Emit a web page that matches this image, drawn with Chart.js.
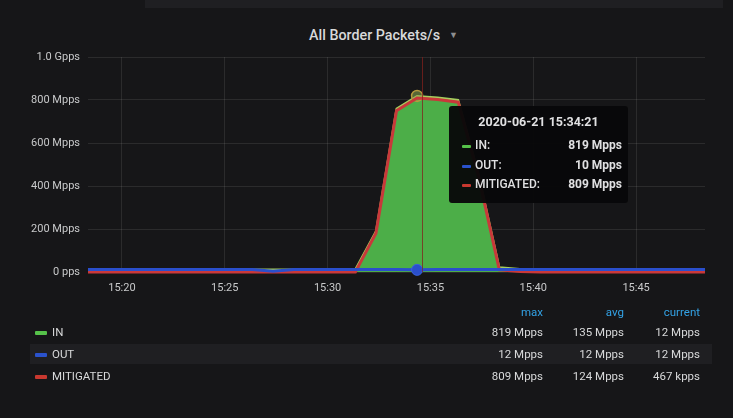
<!DOCTYPE html>
<html>
<head>
<meta charset="utf-8">
<script src="https://cdn.jsdelivr.net/npm/chart.js@4/dist/chart.umd.min.js"></script>
<style>
  html, body { margin:0; padding:0; }
  body { width:733px; height:418px; background:#161618; position:relative; overflow:hidden; font-family: Roboto, "Noto Sans", sans-serif; color:#d8d9da; }
  #topbar { position:absolute; left:145px; top:0; width:578px; height:8px; background:#1f1f22; }
  #title { position:absolute; left:17px; width:733px; top:27px; text-align:center; font-size:14.3px; font-weight:500; color:#d8d9da; }
  #title .caret { color:#8e8e90; font-size:9px; margin-left:9px; position:relative; top:-2px; }
  #wrap { position:absolute; left:0; top:40px; width:733px; height:265px; }
  #tip { position:absolute; left:449px; top:106px; width:179px; height:97px; background:rgba(8,8,9,0.96); border-radius:3px; }
  #tip .t { position:absolute; left:0; width:179px; top:8px; text-align:center; font-size:12.5px; font-weight:700; color:#e0e0e2; }
  #tip .r { position:absolute; left:13px; width:160px; height:16px; font-size:12px; font-weight:700; color:#e0e0e2; }
  #tip .r .m { position:absolute; left:0; top:7px; width:9px; height:3px; border-radius:1px; }
  #tip .r .l { position:absolute; left:13px; top:0; font-weight:500; }
  #tip .r .v { position:absolute; right:0; top:0; }
  #legend { position:absolute; left:0; top:302px; width:733px; }
  .hdr, .row { position:absolute; left:30px; width:682px; height:20px; font-size:11.5px; }
  .hdr { color:#33a2e5; }
  .row .m { position:absolute; left:5px; top:9px; width:12px; height:4px; border-radius:1px; }
  .row .n { position:absolute; left:22px; top:3px; color:#d8d9da; }
  .c { position:absolute; top:3px; text-align:right; width:80px; }
  .c1 { left:433px; } .c2 { left:514px; } .c3 { left:590px; }
  .hl { background:#1f1f22; }
</style>
</head>
<body>
<div id="topbar"></div>
<div id="title">All Border Packets/s<span class="caret">&#9660;</span></div>
<div id="wrap"><canvas id="c"></canvas></div>
<div id="tip"></div>
<div id="legend"></div>
<script>
// ---- data ----
const times = ['15:18:21','15:19:21','15:20:21','15:21:21','15:22:21','15:23:21','15:24:21','15:25:21','15:26:21','15:27:21','15:28:21','15:29:21','15:30:21','15:31:21','15:32:21','15:33:21','15:34:21','15:35:21','15:36:21','15:37:21','15:38:21','15:39:21','15:40:21','15:41:21','15:42:21','15:43:21','15:44:21','15:45:21','15:46:21','15:47:21','15:48:21'];
const seriesNames = ['IN','OUT','MITIGATED'];
// values in Mpps
const inValues  = [12,12,12,12,12,12,12,12,12,12,12,12,12,13,190,760,819,812,800,450,22,14,12,12,12,12,12,12,12,12,12];
const outValues = [12,12,12,12,12,12,12,12,12,3,12,12,12,12,12,12,10,12,12,12,12,12,12,12,12,12,12,12,12,12,12];
const mitValues = [0.5,0.5,0.5,0.5,0.5,0.5,0.5,0.5,0.5,0.5,0.5,0.5,0.5,0.5,180,750,809,802,790,440,10,2,0.5,0.5,0.5,0.5,0.5,0.5,0.5,0.5,0.467];
const yTicks = [0,200,400,600,800,1000];
const yTickLabels = ['0 pps','200 Mpps','400 Mpps','600 Mpps','800 Mpps','1.0 Gpps'];
const xTicks = ['15:20','15:25','15:30','15:35','15:40','15:45'];
const hoverTime = '15:34:21';
const hoverDate = '2020-06-21';
const cursorTime = '15:34:34';
const tooltipValues = ['819 Mpps','10 Mpps','809 Mpps'];
const legendHeaders = ['max','avg','current'];
const legendMax = ['819 Mpps','12 Mpps','809 Mpps'];
const legendAvg = ['135 Mpps','12 Mpps','124 Mpps'];
const legendCurrent = ['12 Mpps','12 Mpps','467 kpps'];
// ---------------

const colors = { IN:'#4cae48', INline:'#a6cf5e', OUT:'#2a4fcc', MIT:'#c9383a' };
const markColors = ['#56c24a','#2a52cc','#c8382f'];

function toMin(t){ const p=t.split(':').map(Number); return (p[0]-15)*60+p[1]+(p[2]||0)/60; }
const xs = times.map(toMin);
const hoverIdx = times.indexOf(hoverTime);
const pts = arr => arr.map((v,i)=>({x:xs[i], y:v}));

const cursorPlugin = {
  id:'cursor',
  afterDatasetsDraw(chart){
    const {ctx, chartArea, scales} = chart;
    const x = scales.x.getPixelForValue(toMin(cursorTime));
    ctx.save();
    ctx.strokeStyle = 'rgba(130,32,28,0.75)';
    ctx.lineWidth = 1;
    ctx.beginPath();
    ctx.moveTo(Math.round(x)+0.5, chartArea.top);
    ctx.lineTo(Math.round(x)+0.5, chartArea.bottom);
    ctx.stroke();
    ctx.restore();
  }
};

const radiusAt = ctx => ctx.dataIndex === hoverIdx ? 5.5 : 0;

new Chart(document.getElementById('c'), {
  type:'line',
  data:{
    datasets:[
      { label:'OUT', data:pts(outValues), borderColor:colors.OUT, borderWidth:3, fill:false, order:1, clip:false,
        pointRadius:radiusAt, pointBackgroundColor:colors.OUT, pointBorderColor:'#3a62e0', pointBorderWidth:1, tension:0 },
      { label:'MITIGATED', data:pts(mitValues), borderColor:colors.MIT, borderWidth:3, fill:false, order:2, clip:false,
        pointRadius:0, tension:0 },
      { label:'IN', data:pts(inValues), borderColor:colors.INline, borderWidth:2, backgroundColor:colors.IN, fill:'origin', order:3, clip:false,
        pointRadius:radiusAt, pointBackgroundColor:'rgba(140,170,80,0.55)', pointBorderColor:'#b59a3e', pointBorderWidth:1.5, tension:0 }
    ]
  },
  options:{
    responsive:true, maintainAspectRatio:false, animation:false,
    layout:{ padding:{ top:17, right:28, left:0, bottom:0 } },
    plugins:{ legend:{display:false}, tooltip:{enabled:false}, title:{display:false} },
    scales:{
      x:{
        type:'linear', min:toMin(times[0]), max:toMin(times[times.length-1]),
        afterBuildTicks: s => { s.ticks = xTicks.map(t=>({value:toMin(t)})); },
        afterFit: s => { s.height = 33; },
        grid:{ color:'rgba(255,255,255,0.09)', drawTicks:false },
        border:{ display:false },
        ticks:{ color:'#c8c9ca', font:{family:'Roboto', size:11}, padding:10, maxRotation:0,
          callback: v => { const i = xTicks.findIndex(t=>Math.abs(toMin(t)-v)<1e-6); return i>=0 ? xTicks[i] : ''; } }
      },
      y:{
        min:0, max:1000,
        afterBuildTicks: s => { s.ticks = yTicks.map(v=>({value:v})); },
        afterFit: s => { s.width = 88; },
        grid:{ color:'rgba(255,255,255,0.09)', drawTicks:false },
        border:{ display:false },
        ticks:{ color:'#c8c9ca', font:{family:'Roboto', size:11}, padding:8,
          callback: v => { const i = yTicks.indexOf(v); return i>=0 ? yTickLabels[i] : ''; } }
      }
    }
  },
  plugins:[cursorPlugin]
});

// tooltip
const tip = document.getElementById('tip');
let h = '<div class="t">'+hoverDate+' '+hoverTime+'</div>';
seriesNames.forEach((n,i)=>{
  h += '<div class="r" style="top:'+(32+i*19.5)+'px"><span class="m" style="background:'+markColors[i]+'"></span><span class="l">'+n+':</span><span class="v">'+tooltipValues[i]+'</span></div>';
});
tip.innerHTML = h;

// legend table
const lg = document.getElementById('legend');
let L = '<div class="hdr" style="top:0px">';
legendHeaders.forEach((t,i)=>{ L += '<span class="c c'+(i+1)+'">'+t+'</span>'; });
L += '</div>';
seriesNames.forEach((n,i)=>{
  L += '<div class="row'+(i===1?' hl':'')+'" style="top:'+(20+i*22)+'px"><span class="m" style="background:'+markColors[i]+'"></span><span class="n">'+n+'</span>'+
       '<span class="c c1">'+legendMax[i]+'</span><span class="c c2">'+legendAvg[i]+'</span><span class="c c3">'+legendCurrent[i]+'</span></div>';
});
lg.innerHTML = L;
</script>
</body>
</html>
